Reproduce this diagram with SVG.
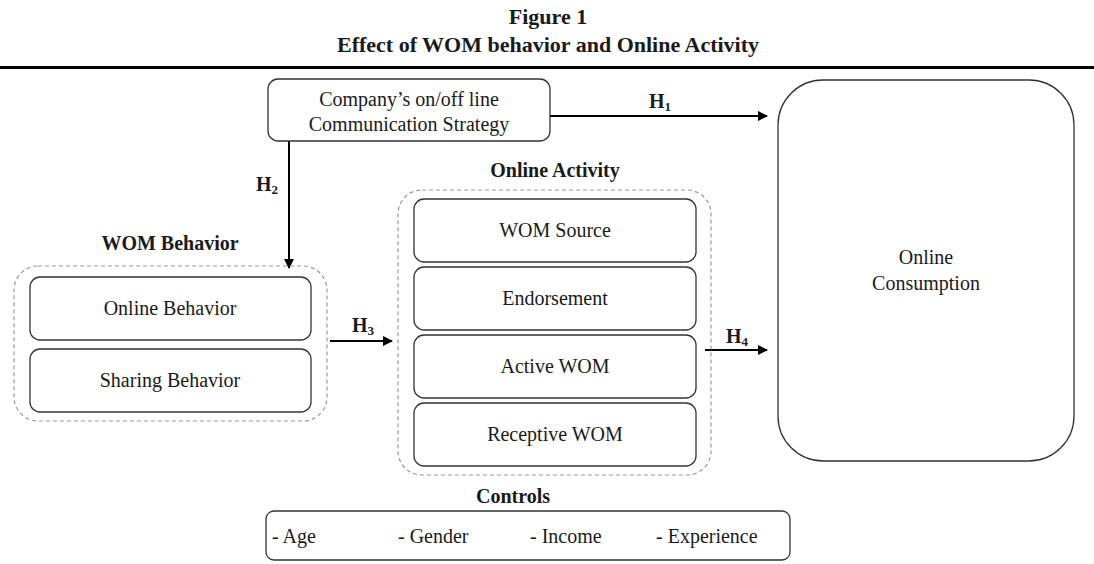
<svg xmlns="http://www.w3.org/2000/svg" width="1094" height="564" viewBox="0 0 1094 564">
  <style>
    .t { font-family: "Liberation Serif", "Times New Roman", serif; font-size: 20px; fill: #1a1a1a; text-anchor: middle; }
    .s { text-anchor: start; }
    .b { font-weight: bold; }
    .h { font-size: 22px; }
    .box { fill: #fff; stroke: #333; stroke-width: 1.3; }
    .grp { fill: none; stroke: #999; stroke-width: 1.2; stroke-dasharray: 4 3; }
    .conn { stroke: #000; stroke-width: 2; fill: none; marker-end: url(#arr); }
    .sub { font-size: 13px; }
  </style>
  <defs>
    <marker id="arr" viewBox="0 0 10 10" refX="9" refY="5" markerWidth="12" markerHeight="10" markerUnits="userSpaceOnUse" orient="auto">
      <path d="M0,0 L10,5 L0,10 z" fill="#000"/>
    </marker>
  </defs>
  <rect width="1094" height="564" fill="#fff"/>

  <!-- heading -->
  <g id="heading">
    <text class="t b h" x="548" y="24">Figure 1</text>
    <text class="t b h" x="548" y="52">Effect of WOM behavior and Online Activity</text>
    <rect x="0" y="66" width="1094" height="3" fill="#000"/>
  </g>

  <!-- connectors -->
  <g id="connectors">
    <path class="conn" d="M550,116 H767"/>
    <text class="t b" x="660" y="108">H<tspan class="sub" dy="3">1</tspan></text>
    <path class="conn" d="M289,141 V268"/>
    <text class="t b" x="267" y="191">H<tspan class="sub" dy="3">2</tspan></text>
    <path class="conn" d="M330,341 H392"/>
    <text class="t b" x="363" y="332">H<tspan class="sub" dy="3">3</tspan></text>
    <path class="conn" d="M705,350 H767"/>
    <text class="t b" x="737" y="343">H<tspan class="sub" dy="3">4</tspan></text>
  </g>

  <g id="strategy">
    <rect class="box" x="268" y="79" width="282" height="62" rx="10"/>
    <text class="t" x="409" y="106">Company’s on/off line</text>
    <text class="t" x="409" y="131">Communication Strategy</text>
  </g>

  <g id="consumption">
    <rect class="box" x="778" y="80" width="296" height="381" rx="45"/>
    <text class="t" x="926" y="264">Online</text>
    <text class="t" x="926" y="290">Consumption</text>
  </g>

  <g id="wom-behavior">
    <text class="t b" x="170" y="250">WOM Behavior</text>
    <rect class="grp" x="14" y="266" width="313" height="155" rx="24"/>
    <g id="online-behavior">
      <rect class="box" x="30" y="277" width="281" height="63" rx="10"/>
      <text class="t" x="170" y="315">Online Behavior</text>
    </g>
    <g id="sharing-behavior">
      <rect class="box" x="30" y="349" width="281" height="63" rx="10"/>
      <text class="t" x="170" y="387">Sharing Behavior</text>
    </g>
  </g>

  <g id="online-activity">
    <text class="t b" x="555" y="177">Online Activity</text>
    <rect class="grp" x="398" y="190" width="313" height="285" rx="24"/>
    <g id="wom-source">
      <rect class="box" x="414" y="199" width="282" height="63" rx="10"/>
      <text class="t" x="555" y="237">WOM Source</text>
    </g>
    <g id="endorsement">
      <rect class="box" x="414" y="267" width="282" height="63" rx="10"/>
      <text class="t" x="555" y="305">Endorsement</text>
    </g>
    <g id="active-wom">
      <rect class="box" x="414" y="335" width="282" height="63" rx="10"/>
      <text class="t" x="555" y="373">Active WOM</text>
    </g>
    <g id="receptive-wom">
      <rect class="box" x="414" y="403" width="282" height="63" rx="10"/>
      <text class="t" x="555" y="441">Receptive WOM</text>
    </g>
  </g>

  <g id="controls">
    <text class="t b" x="513" y="503">Controls</text>
    <rect class="box" x="266" y="511" width="524" height="49" rx="8"/>
    <text class="t s" x="272" y="543">- Age</text>
    <text class="t s" x="398" y="543">- Gender</text>
    <text class="t s" x="530" y="543">- Income</text>
    <text class="t s" x="656" y="543">- Experience</text>
  </g>
</svg>
